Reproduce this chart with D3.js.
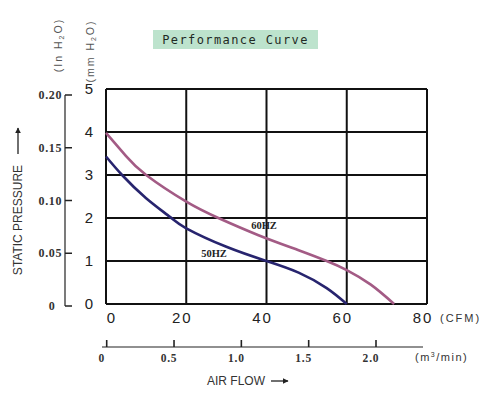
<!DOCTYPE html>
<html>
<head>
<meta charset="utf-8">
<script src="https://cdn.jsdelivr.net/npm/d3@7"></script>
<style>
  body { margin: 0; background: #fff; }
  svg { display: block; }
</style>
</head>
<body>
<div id="grafico"></div>
<script>
const ancho = 496;
const alto = 394;

// datos
const cfm60 = [0, 5, 10, 20, 28, 38, 48, 55, 60, 66, 71.8];
const presion60 = [3.98, 3.44, 3.0, 2.38, 2.0, 1.6, 1.25, 1.0, 0.79, 0.45, 0];
const cfm50 = [0, 4, 10, 16, 20, 30, 40, 48, 55, 60];
const presion50 = [3.43, 3.0, 2.46, 2.02, 1.76, 1.33, 1.0, 0.73, 0.37, 0];

const ticksCfm = [0, 20, 40, 60, 80];
const ticksMm = [0, 1, 2, 3, 4, 5];
const ticksPulg = [0, 0.05, 0.10, 0.15, 0.20];
const etiquetasPulg = ["0", "0.05", "0.10", "0.15", "0.20"];
const ticksM3 = [0, 0.5, 1.0, 1.5, 2.0];
const etiquetasM3 = ["0", "0.5", "1.0", "1.5", "2.0"];

const svg = d3.select("#grafico")
  .append("svg")
  .attr("width", ancho)
  .attr("height", alto);

const x = d3.scaleLinear().domain([0, 80]).range([106, 427]);
const y = d3.scaleLinear().domain([0, 5]).range([304, 89]);
const yPulg = d3.scaleLinear().domain([0, 0.20]).range([306, 95]);
const xM3 = d3.scaleLinear().domain([0, 2.0]).range([106.7, 376]);

svg.append("defs").append("marker")
  .attr("id", "flecha")
  .attr("viewBox", "0 0 10 10")
  .attr("refX", 9).attr("refY", 5)
  .attr("markerWidth", 6).attr("markerHeight", 6)
  .attr("markerUnits", "userSpaceOnUse")
  .attr("orient", "auto")
  .append("path")
  .attr("d", "M0,0 L10,5 L0,10 z")
  .attr("fill", "#222");

// titulo
svg.append("rect")
  .attr("x", 153).attr("y", 30)
  .attr("width", 165).attr("height", 19)
  .attr("fill", "#bde3cd");
svg.append("text")
  .attr("x", 235.5).attr("y", 44)
  .attr("text-anchor", "middle")
  .attr("font-family", "DejaVu Sans Mono")
  .attr("font-size", 12)
  .attr("letter-spacing", 1.4)
  .attr("fill", "#1f2a24")
  .text("Performance Curve");

// rejilla
const rejilla = svg.append("g")
  .attr("stroke", "#111")
  .attr("stroke-width", 2);
rejilla.selectAll("line.v")
  .data(ticksCfm)
  .enter().append("line")
  .attr("class", "v")
  .attr("x1", d => x(d)).attr("x2", d => x(d))
  .attr("y1", y(0)).attr("y2", y(5));
rejilla.selectAll("line.h")
  .data(ticksMm)
  .enter().append("line")
  .attr("class", "h")
  .attr("x1", x(0)).attr("x2", x(80))
  .attr("y1", d => y(d)).attr("y2", d => y(d));

// curvas
const linea = d3.line()
  .x(d => x(d[0]))
  .y(d => y(d[1]))
  .curve(d3.curveNatural);

svg.append("path")
  .datum(cfm60.map((c, i) => [c, presion60[i]]))
  .attr("d", linea)
  .attr("fill", "none")
  .attr("stroke", "#a35b85")
  .attr("stroke-width", 2.6);

svg.append("path")
  .datum(cfm50.map((c, i) => [c, presion50[i]]))
  .attr("d", linea)
  .attr("fill", "none")
  .attr("stroke", "#27246e")
  .attr("stroke-width", 2.6);

svg.append("text")
  .attr("x", 264).attr("y", 229)
  .attr("text-anchor", "middle")
  .attr("font-family", "Liberation Serif")
  .attr("font-weight", "bold")
  .attr("font-size", 10.5)
  .attr("fill", "#222")
  .text("60HZ");
svg.append("text")
  .attr("x", 214).attr("y", 257)
  .attr("text-anchor", "middle")
  .attr("font-family", "Liberation Serif")
  .attr("font-weight", "bold")
  .attr("font-size", 10.5)
  .attr("fill", "#222")
  .text("50HZ");

// eje mm H2O
svg.selectAll("text.mm")
  .data(ticksMm)
  .enter().append("text")
  .attr("class", "mm")
  .attr("x", 89).attr("y", d => y(d) + 5)
  .attr("text-anchor", "middle")
  .attr("font-family", "Liberation Sans")
  .attr("font-size", 15)
  .attr("fill", "#222")
  .text(d => d);

// eje pulgadas
svg.append("line")
  .attr("x1", 65).attr("x2", 65)
  .attr("y1", yPulg(0.20)).attr("y2", yPulg(0))
  .attr("stroke", "#222").attr("stroke-width", 1.2);
svg.selectAll("line.tp")
  .data(ticksPulg)
  .enter().append("line")
  .attr("class", "tp")
  .attr("x1", 65).attr("x2", 72)
  .attr("y1", d => yPulg(d)).attr("y2", d => yPulg(d))
  .attr("stroke", "#222").attr("stroke-width", 1.5);
svg.selectAll("text.tp")
  .data(ticksPulg)
  .enter().append("text")
  .attr("class", "tp")
  .attr("x", (d, i) => i === 0 ? 52 : 62)
  .attr("y", d => yPulg(d) + 4)
  .attr("text-anchor", (d, i) => i === 0 ? "middle" : "end")
  .attr("font-family", "Liberation Serif")
  .attr("font-weight", "bold")
  .attr("font-size", 12)
  .attr("letter-spacing", 0.6)
  .attr("fill", "#333")
  .text((d, i) => etiquetasPulg[i]);

// titulos verticales de unidades
function tituloUnidad(cx, cy, prefijo) {
  const t = svg.append("text")
    .attr("transform", `translate(${cx},${cy}) rotate(-90)`)
    .attr("text-anchor", "middle")
    .attr("font-family", "Liberation Sans")
    .attr("font-size", 10.5)
    .attr("letter-spacing", 2)
    .attr("fill", "#555");
  t.append("tspan").text("(" + prefijo + " H");
  t.append("tspan").attr("font-size", 7).attr("dy", 2).text("2");
  t.append("tspan").attr("dy", -2).text("O)");
}
tituloUnidad(62, 45, "In");
tituloUnidad(94, 51, "mm");

svg.append("text")
  .attr("transform", "translate(22,220) rotate(-90)")
  .attr("text-anchor", "middle")
  .attr("font-family", "Liberation Sans")
  .attr("font-size", 12)
  .attr("fill", "#333")
  .text("STATIC PRESSURE");
svg.append("line")
  .attr("x1", 18).attr("x2", 18)
  .attr("y1", 154).attr("y2", 128)
  .attr("stroke", "#222").attr("stroke-width", 1.3)
  .attr("marker-end", "url(#flecha)");

// eje CFM
svg.selectAll("text.cfm")
  .data(ticksCfm)
  .enter().append("text")
  .attr("class", "cfm")
  .attr("x", d => d === 0 ? x(d) + 6 : x(d) - 4).attr("y", 323)
  .attr("text-anchor", "middle")
  .attr("font-family", "Liberation Sans")
  .attr("font-size", 15)
  .attr("letter-spacing", 2)
  .attr("fill", "#222")
  .text(d => d);
svg.append("text")
  .attr("x", 440).attr("y", 322)
  .attr("font-family", "Liberation Sans")
  .attr("font-size", 11)
  .attr("letter-spacing", 2)
  .attr("fill", "#333")
  .text("(CFM)");

// eje m3/min
svg.append("line")
  .attr("x1", 102).attr("x2", 423)
  .attr("y1", 347).attr("y2", 347)
  .attr("stroke", "#222").attr("stroke-width", 1.2);
svg.selectAll("line.m3")
  .data(ticksM3)
  .enter().append("line")
  .attr("class", "m3")
  .attr("x1", d => xM3(d)).attr("x2", d => xM3(d))
  .attr("y1", 340).attr("y2", 347)
  .attr("stroke", "#222").attr("stroke-width", 1.6);
svg.selectAll("text.m3")
  .data(ticksM3)
  .enter().append("text")
  .attr("class", "m3")
  .attr("x", d => xM3(d) - 5).attr("y", 362)
  .attr("text-anchor", "middle")
  .attr("font-family", "Liberation Serif")
  .attr("font-weight", "bold")
  .attr("font-size", 11.5)
  .attr("letter-spacing", 0.8)
  .attr("fill", "#333")
  .text((d, i) => etiquetasM3[i]);

const unidadM3 = svg.append("text")
  .attr("x", 415).attr("y", 361)
  .attr("font-family", "Liberation Sans")
  .attr("font-size", 11)
  .attr("letter-spacing", 1.5)
  .attr("fill", "#333");
unidadM3.append("tspan").text("(m");
unidadM3.append("tspan").attr("font-size", 7).attr("dy", -4).text("3");
unidadM3.append("tspan").attr("dy", 4).text("/min)");

svg.append("text")
  .attr("x", 207).attr("y", 385)
  .attr("font-family", "Liberation Sans")
  .attr("font-size", 12)
  .attr("fill", "#333")
  .text("AIR FLOW");
svg.append("line")
  .attr("x1", 271).attr("x2", 288)
  .attr("y1", 381).attr("y2", 381)
  .attr("stroke", "#222").attr("stroke-width", 1.3)
  .attr("marker-end", "url(#flecha)");
</script>
</body>
</html>
